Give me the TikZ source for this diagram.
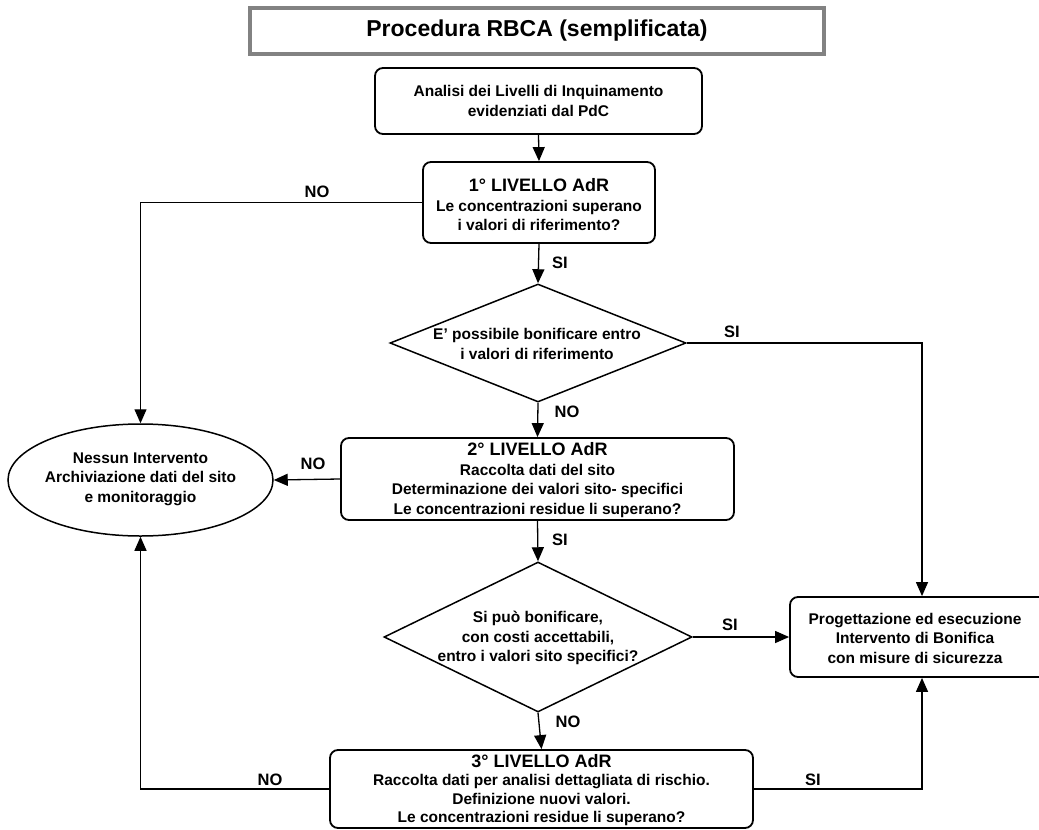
\documentclass[tikz,border=0pt]{standalone}
\usepackage{fontspec}
\setmainfont{Liberation Sans}
\usetikzlibrary{shapes.geometric,arrows.meta}
\definecolor{tgray}{RGB}{130,130,130}
\newcommand\hdsize{\fontsize{18}{21}\selectfont}
\tikzset{
  box/.style={draw, line width=1.8pt, rounded corners=8pt, inner sep=0pt},
  txt/.style={align=center, font=\fontsize{15.5}{19.5}\selectfont\bfseries, inner sep=0pt},
  lbl/.style={font=\fontsize{16.5}{19}\selectfont\bfseries, inner sep=0pt},
  arr/.style={line width=1.3pt, -{Triangle[length=14pt,width=12pt]}},
  dia/.style={draw, shape=diamond, line width=1.5pt, inner sep=0pt},
}
\begin{document}
\begin{tikzpicture}[x=1pt,y=-1pt]
\useasboundingbox (0,0) rectangle (1039,830);
% title
\node[draw=tgray, line width=3.5pt, minimum width=574pt, minimum height=46pt, inner sep=0pt,
      font=\fontsize{23}{26}\selectfont\bfseries] (title) at (537,31) {Procedura RBCA (semplificata)};
% box A
\node[box, minimum width=327pt, minimum height=66pt] (A) at (538.5,101) {};
\node[txt] (At) at (538.5,101) {Analisi dei Livelli di Inquinamento\\evidenziati dal PdC};
% box B
\node[box, minimum width=232pt, minimum height=81pt] (B) at (539,202.5) {};
\node[txt] (Bt) at (539,205) {{\hdsize 1° LIVELLO AdR}\\Le concentrazioni superano\\i valori di riferimento?};
% diamond 1
\node[dia, minimum width=296pt, minimum height=118pt] (D1) at (538,343) {};
\node[txt] (D1t) at (537,344) {E' possibile bonificare entro\\i valori di riferimento};
% box C
\node[box, minimum width=393pt, minimum height=82pt] (C) at (537.5,479) {};
\node[txt] (Ct) at (537.5,480) {{\hdsize 2° LIVELLO AdR}\\Raccolta dati del sito\\Determinazione dei valori sito- specifici\\Le concentrazioni residue li superano?};
% ellipse
\node[draw, ellipse, line width=1.5pt, minimum width=265pt, minimum height=112pt, inner sep=0pt] (E) at (140.5,480) {};
\node[txt] (Et) at (140.5,479) {Nessun Intervento\\Archiviazione dati del sito\\e monitoraggio};
% diamond 2
\node[dia, minimum width=308pt, minimum height=150pt] (D2) at (538,637) {};
\node[txt] (D2t) at (538,638) {Si può bonificare,\\con costi accettabili,\\entro i valori sito specifici?};
% box P (its right side runs past the edge of the picture)
\node[box, minimum width=264pt, minimum height=80pt] (P) at (922,637) {};
\node[txt] (Pt) at (915,638) {Progettazione ed esecuzione\\Intervento di Bonifica\\con misure di sicurezza};
% box D
\node[box, minimum width=423pt, minimum height=78pt] (Dd) at (541.5,789) {};
\node[txt, font=\fontsize{15.5}{18.5}\selectfont\bfseries] (Ddt) at (541.5,790) {{\hdsize 3° LIVELLO AdR}\\Raccolta dati per analisi dettagliata di rischio.\\Definizione nuovi valori.\\Le concentrazioni residue li superano?};
% connectors
\coordinate (cr) at (922,343);
\draw[arr] (A.south) -- (B.north);
\draw[arr] (B.west) -- (B.west -| E.north) -- (E.north);
\draw[arr] (B.south) -- (D1.north);
\draw[arr] (D1.south) -- (C.north);
\draw[arr] (D1.east) -- (cr) -- (cr |- P.north);
\draw[arr] (C.west) -- (E.east);
\draw[arr] (C.south) -- (D2.north);
\draw[arr] (D2.east) -- (P.west);
\draw[arr] (D2.south) -- (Dd.north);
\draw[arr] (Dd.west) -- (Dd.west -| E.south) -- (E.south);
\draw[arr] (Dd.east) -- (Dd.east -| cr) -- (cr |- P.south);
% labels
\node[lbl] (l1) at (317,192) {NO};
\node[lbl] (l2) at (560,263) {SI};
\node[lbl] (l3) at (732,332) {SI};
\node[lbl] (l4) at (567,412) {NO};
\node[lbl] (l5) at (313,464) {NO};
\node[lbl] (l6) at (560,540) {SI};
\node[lbl] (l7) at (730,625) {SI};
\node[lbl] (l8) at (568,722) {NO};
\node[lbl] (l9) at (270,780) {NO};
\node[lbl] (l10) at (813,780) {SI};
\end{tikzpicture}
\end{document}
